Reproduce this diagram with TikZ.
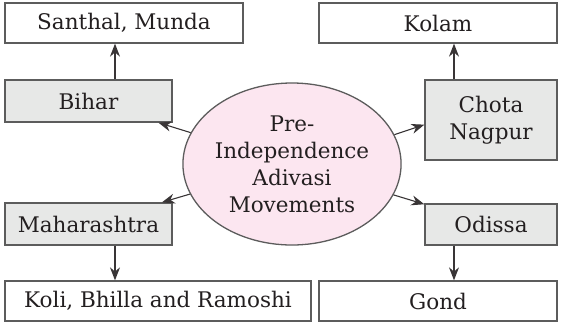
\documentclass[tikz,border=0pt]{standalone}
\usepackage{fontspec}
\setmainfont{DejaVu Serif}
\usepackage{tikz}
\usepackage{xcolor}
\usetikzlibrary{shapes.geometric, arrows.meta}
\definecolor{BoxGrey}{HTML}{E7E8E7}
\definecolor{MovPink}{HTML}{FCE6F0}
\definecolor{EdgeGrey}{HTML}{5C5C5C}
\definecolor{InkDark}{HTML}{231F20}

\begin{document}
\begin{tikzpicture}[x=1pt, y=-1pt,
    every node/.style={text=InkDark, font=\fontsize{21.5}{27}\selectfont},
    tribe/.style={draw=EdgeGrey, line width=1.3pt, fill=white, minimum height=40pt, inner sep=0pt},
    region/.style={draw=EdgeGrey, line width=1.3pt, fill=BoxGrey, minimum width=167pt, minimum height=42pt, inner sep=0pt, align=center},
    link/.style={-{Stealth[length=13pt, width=10pt]}, line width=1.1pt, draw=InkDark!90}]
    \useasboundingbox (0,0) rectangle (565,333);

    % Centre
    \node[ellipse, draw=EdgeGrey, line width=1.3pt, fill=MovPink, minimum width=210pt, minimum height=162pt, inner sep=0pt, align=center]
        (mov) at (292,164) {Pre-\\Independence\\Adivasi\\Movements};

    % Regions
    \node[region] (bihar) at (88.5,101) {Bihar};
    \node[region] (mah) at (88.5,224) {Maharashtra};
    \node[region, minimum width=132pt, minimum height=80pt] (chota) at (491,120) {Chota\\Nagpur};
    \node[region, minimum width=132pt, minimum height=41pt] (odissa) at (491,224.5) {Odissa};

    % Tribes
    \node[tribe, minimum width=238pt] (santhal) at (124,23) {Santhal, Munda};
    \node[tribe, minimum width=306pt] (koli) at (158,301) {Koli, Bhilla and Ramoshi};
    \node[tribe, minimum width=238pt] (kolam) at (438,23) {Kolam};
    \node[tribe, minimum width=238pt] (gond) at (438,301) {Gond};

    % Centre to regions
    \draw[link] (mov) -- (bihar);
    \draw[link] (mov) -- (mah);
    \draw[link] (mov.16) -- (chota.184);
    \draw[link] (mov) -- (odissa);

    % Regions to tribes
    \draw[link] ([xshift=26.5pt]bihar.north) -- ([xshift=26.5pt]bihar.north |- santhal.south);
    \draw[link] ([xshift=26.5pt]mah.south) -- ([xshift=26.5pt]mah.south |- koli.north);
    \draw[link] ([xshift=-37pt]chota.north) -- ([xshift=-37pt]chota.north |- kolam.south);
    \draw[link] ([xshift=-37pt]odissa.south) -- ([xshift=-37pt]odissa.south |- gond.north);
\end{tikzpicture}
\end{document}
